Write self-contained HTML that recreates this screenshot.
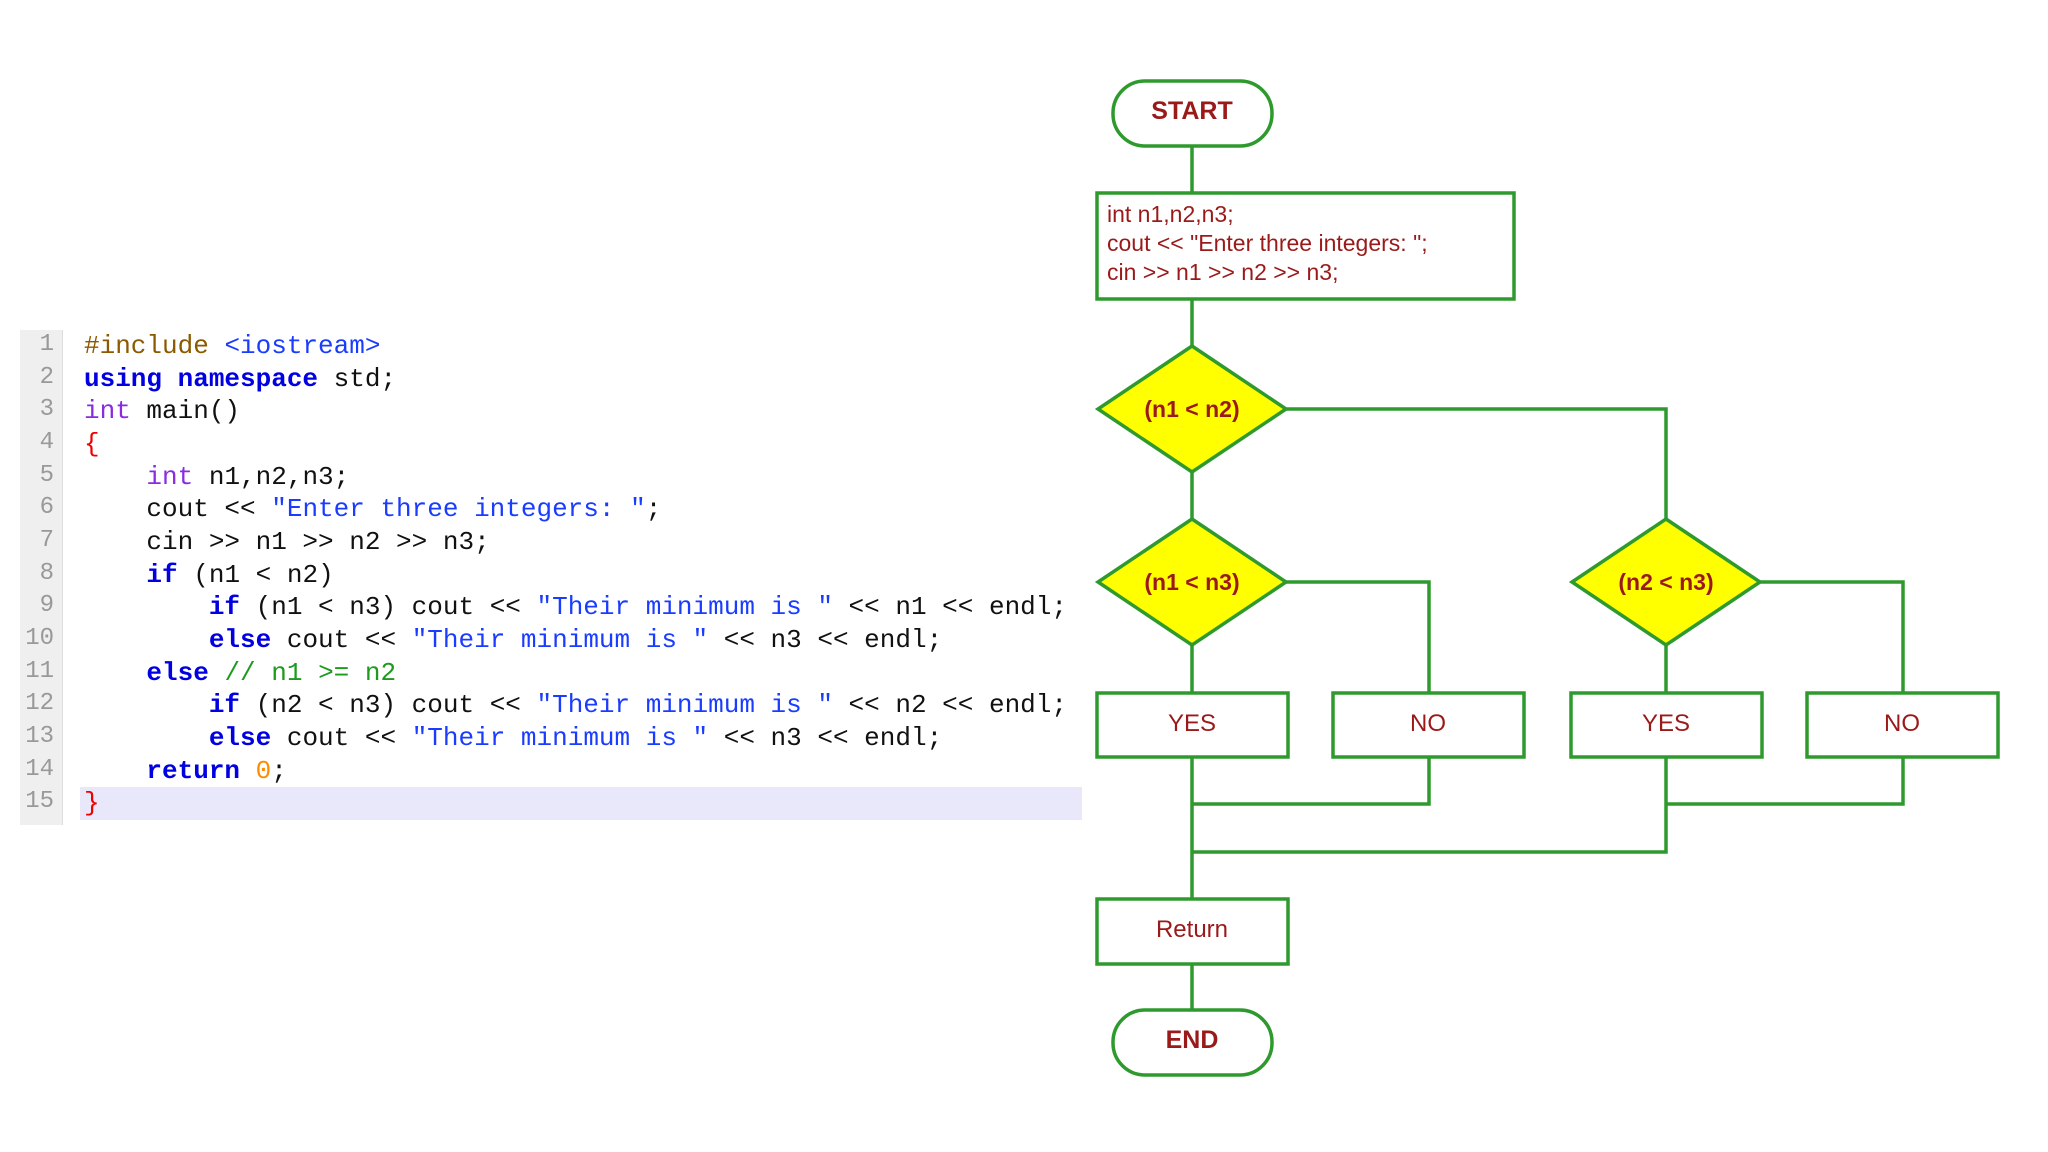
<!DOCTYPE html>
<html><head><meta charset="utf-8"><style>
html,body{margin:0;padding:0;background:#fff;width:2048px;height:1152px;overflow:hidden;position:relative}
.code{position:absolute;left:0;top:0;font-family:"Liberation Mono",monospace;font-size:26px;}
.ln{position:absolute;left:20px;width:34px;text-align:right;color:#999;font-size:24px;}
.l{position:absolute;left:84px;white-space:pre;color:#111;}
.k{color:#0000e0;font-weight:bold}.t{color:#8a2be2}.s{color:#1a3cff}.c{color:#1e9a1e}.n{color:#ff8c00}.p{color:#8b5a00}
</style></head><body>
<div style="position:absolute;left:20px;top:330px;width:42px;height:495px;background:#efefef"></div>
<div style="position:absolute;left:62px;top:330px;width:1px;height:495px;background:#ddd"></div>
<div style="position:absolute;left:80px;top:787px;width:1002px;height:33px;background:#e8e8fa"></div>
<div class="code">
<div class="ln" style="top:331px">1</div><div class="l" style="top:331px"><span class="p">#include</span> <span class="s">&lt;iostream&gt;</span></div>
<div class="ln" style="top:364px">2</div><div class="l" style="top:364px"><span class="k">using namespace</span> std;</div>
<div class="ln" style="top:396px">3</div><div class="l" style="top:396px"><span class="t">int</span> main()</div>
<div class="ln" style="top:429px">4</div><div class="l" style="top:429px"><span style="color:#e00">{</span></div>
<div class="ln" style="top:462px">5</div><div class="l" style="top:462px">    <span class="t">int</span> n1,n2,n3;</div>
<div class="ln" style="top:494px">6</div><div class="l" style="top:494px">    cout &lt;&lt; <span class="s">"Enter three integers: "</span>;</div>
<div class="ln" style="top:527px">7</div><div class="l" style="top:527px">    cin &gt;&gt; n1 &gt;&gt; n2 &gt;&gt; n3;</div>
<div class="ln" style="top:560px">8</div><div class="l" style="top:560px">    <span class="k">if</span> (n1 &lt; n2)</div>
<div class="ln" style="top:592px">9</div><div class="l" style="top:592px">        <span class="k">if</span> (n1 &lt; n3) cout &lt;&lt; <span class="s">"Their minimum is "</span> &lt;&lt; n1 &lt;&lt; endl;</div>
<div class="ln" style="top:625px">10</div><div class="l" style="top:625px">        <span class="k">else</span> cout &lt;&lt; <span class="s">"Their minimum is "</span> &lt;&lt; n3 &lt;&lt; endl;</div>
<div class="ln" style="top:658px">11</div><div class="l" style="top:658px">    <span class="k">else</span> <span class="c">// n1 &gt;= n2</span></div>
<div class="ln" style="top:690px">12</div><div class="l" style="top:690px">        <span class="k">if</span> (n2 &lt; n3) cout &lt;&lt; <span class="s">"Their minimum is "</span> &lt;&lt; n2 &lt;&lt; endl;</div>
<div class="ln" style="top:723px">13</div><div class="l" style="top:723px">        <span class="k">else</span> cout &lt;&lt; <span class="s">"Their minimum is "</span> &lt;&lt; n3 &lt;&lt; endl;</div>
<div class="ln" style="top:756px">14</div><div class="l" style="top:756px">    <span class="k">return</span> <span class="n">0</span>;</div>
<div class="ln" style="top:788px">15</div><div class="l" style="top:788px"><span style="color:#e00">}</span></div>
</div>
<svg width="2048" height="1152" style="position:absolute;left:0;top:0" font-family="Liberation Sans, sans-serif">
<g stroke="#2e9a2e" stroke-width="3.5" fill="none">
<line x1="1192" y1="146" x2="1192" y2="193"/>
<line x1="1192" y1="299" x2="1192" y2="346"/>
<line x1="1192" y1="472" x2="1192" y2="519"/>
<polyline points="1286,409 1666,409 1666,519"/>
<polyline points="1286,582 1429,582 1429,693"/>
<polyline points="1760,582 1903,582 1903,693"/>
<line x1="1192" y1="645" x2="1192" y2="693"/>
<line x1="1666" y1="645" x2="1666" y2="693"/>
<line x1="1192" y1="757" x2="1192" y2="899"/>
<polyline points="1429,757 1429,804 1192,804"/>
<polyline points="1903,757 1903,804 1666,804"/>
<polyline points="1666,757 1666,852 1192,852"/>
<line x1="1192" y1="964" x2="1192" y2="1010"/>
<rect x="1113" y="81" width="159" height="65" rx="32" fill="#fff"/>
<rect x="1097" y="193" width="417" height="106" fill="#fff"/>
<polygon points="1192,346 1286,409 1192,472 1098,409" fill="#ffff00"/>
<polygon points="1192,519 1286,582 1192,645 1098,582" fill="#ffff00"/>
<polygon points="1666,519 1760,582 1666,645 1572,582" fill="#ffff00"/>
<rect x="1097" y="693" width="191" height="64" fill="#fff"/>
<rect x="1333" y="693" width="191" height="64" fill="#fff"/>
<rect x="1571" y="693" width="191" height="64" fill="#fff"/>
<rect x="1807" y="693" width="191" height="64" fill="#fff"/>
<rect x="1097" y="899" width="191" height="65" fill="#fff"/>
<rect x="1113" y="1010" width="159" height="65" rx="32" fill="#fff"/>
</g>
<g fill="#9a1a1a" text-anchor="middle" font-size="24">
<text x="1192" y="119" font-weight="bold" font-size="25">START</text>
<text x="1192" y="1048" font-weight="bold" font-size="25">END</text>
<text x="1192" y="417" font-weight="bold" font-size="23">(n1 &lt; n2)</text>
<text x="1192" y="590" font-weight="bold" font-size="23">(n1 &lt; n3)</text>
<text x="1666" y="590" font-weight="bold" font-size="23">(n2 &lt; n3)</text>
<text x="1192" y="731">YES</text>
<text x="1428" y="731">NO</text>
<text x="1666" y="731">YES</text>
<text x="1902" y="731">NO</text>
<text x="1192" y="937">Return</text>
</g>
<g fill="#9a1a1a" font-size="23">
<text x="1107" y="222">int n1,n2,n3;</text>
<text x="1107" y="251">cout &lt;&lt; "Enter three integers: ";</text>
<text x="1107" y="280">cin &gt;&gt; n1 &gt;&gt; n2 &gt;&gt; n3;</text>
</g>
</svg>
</body></html>
